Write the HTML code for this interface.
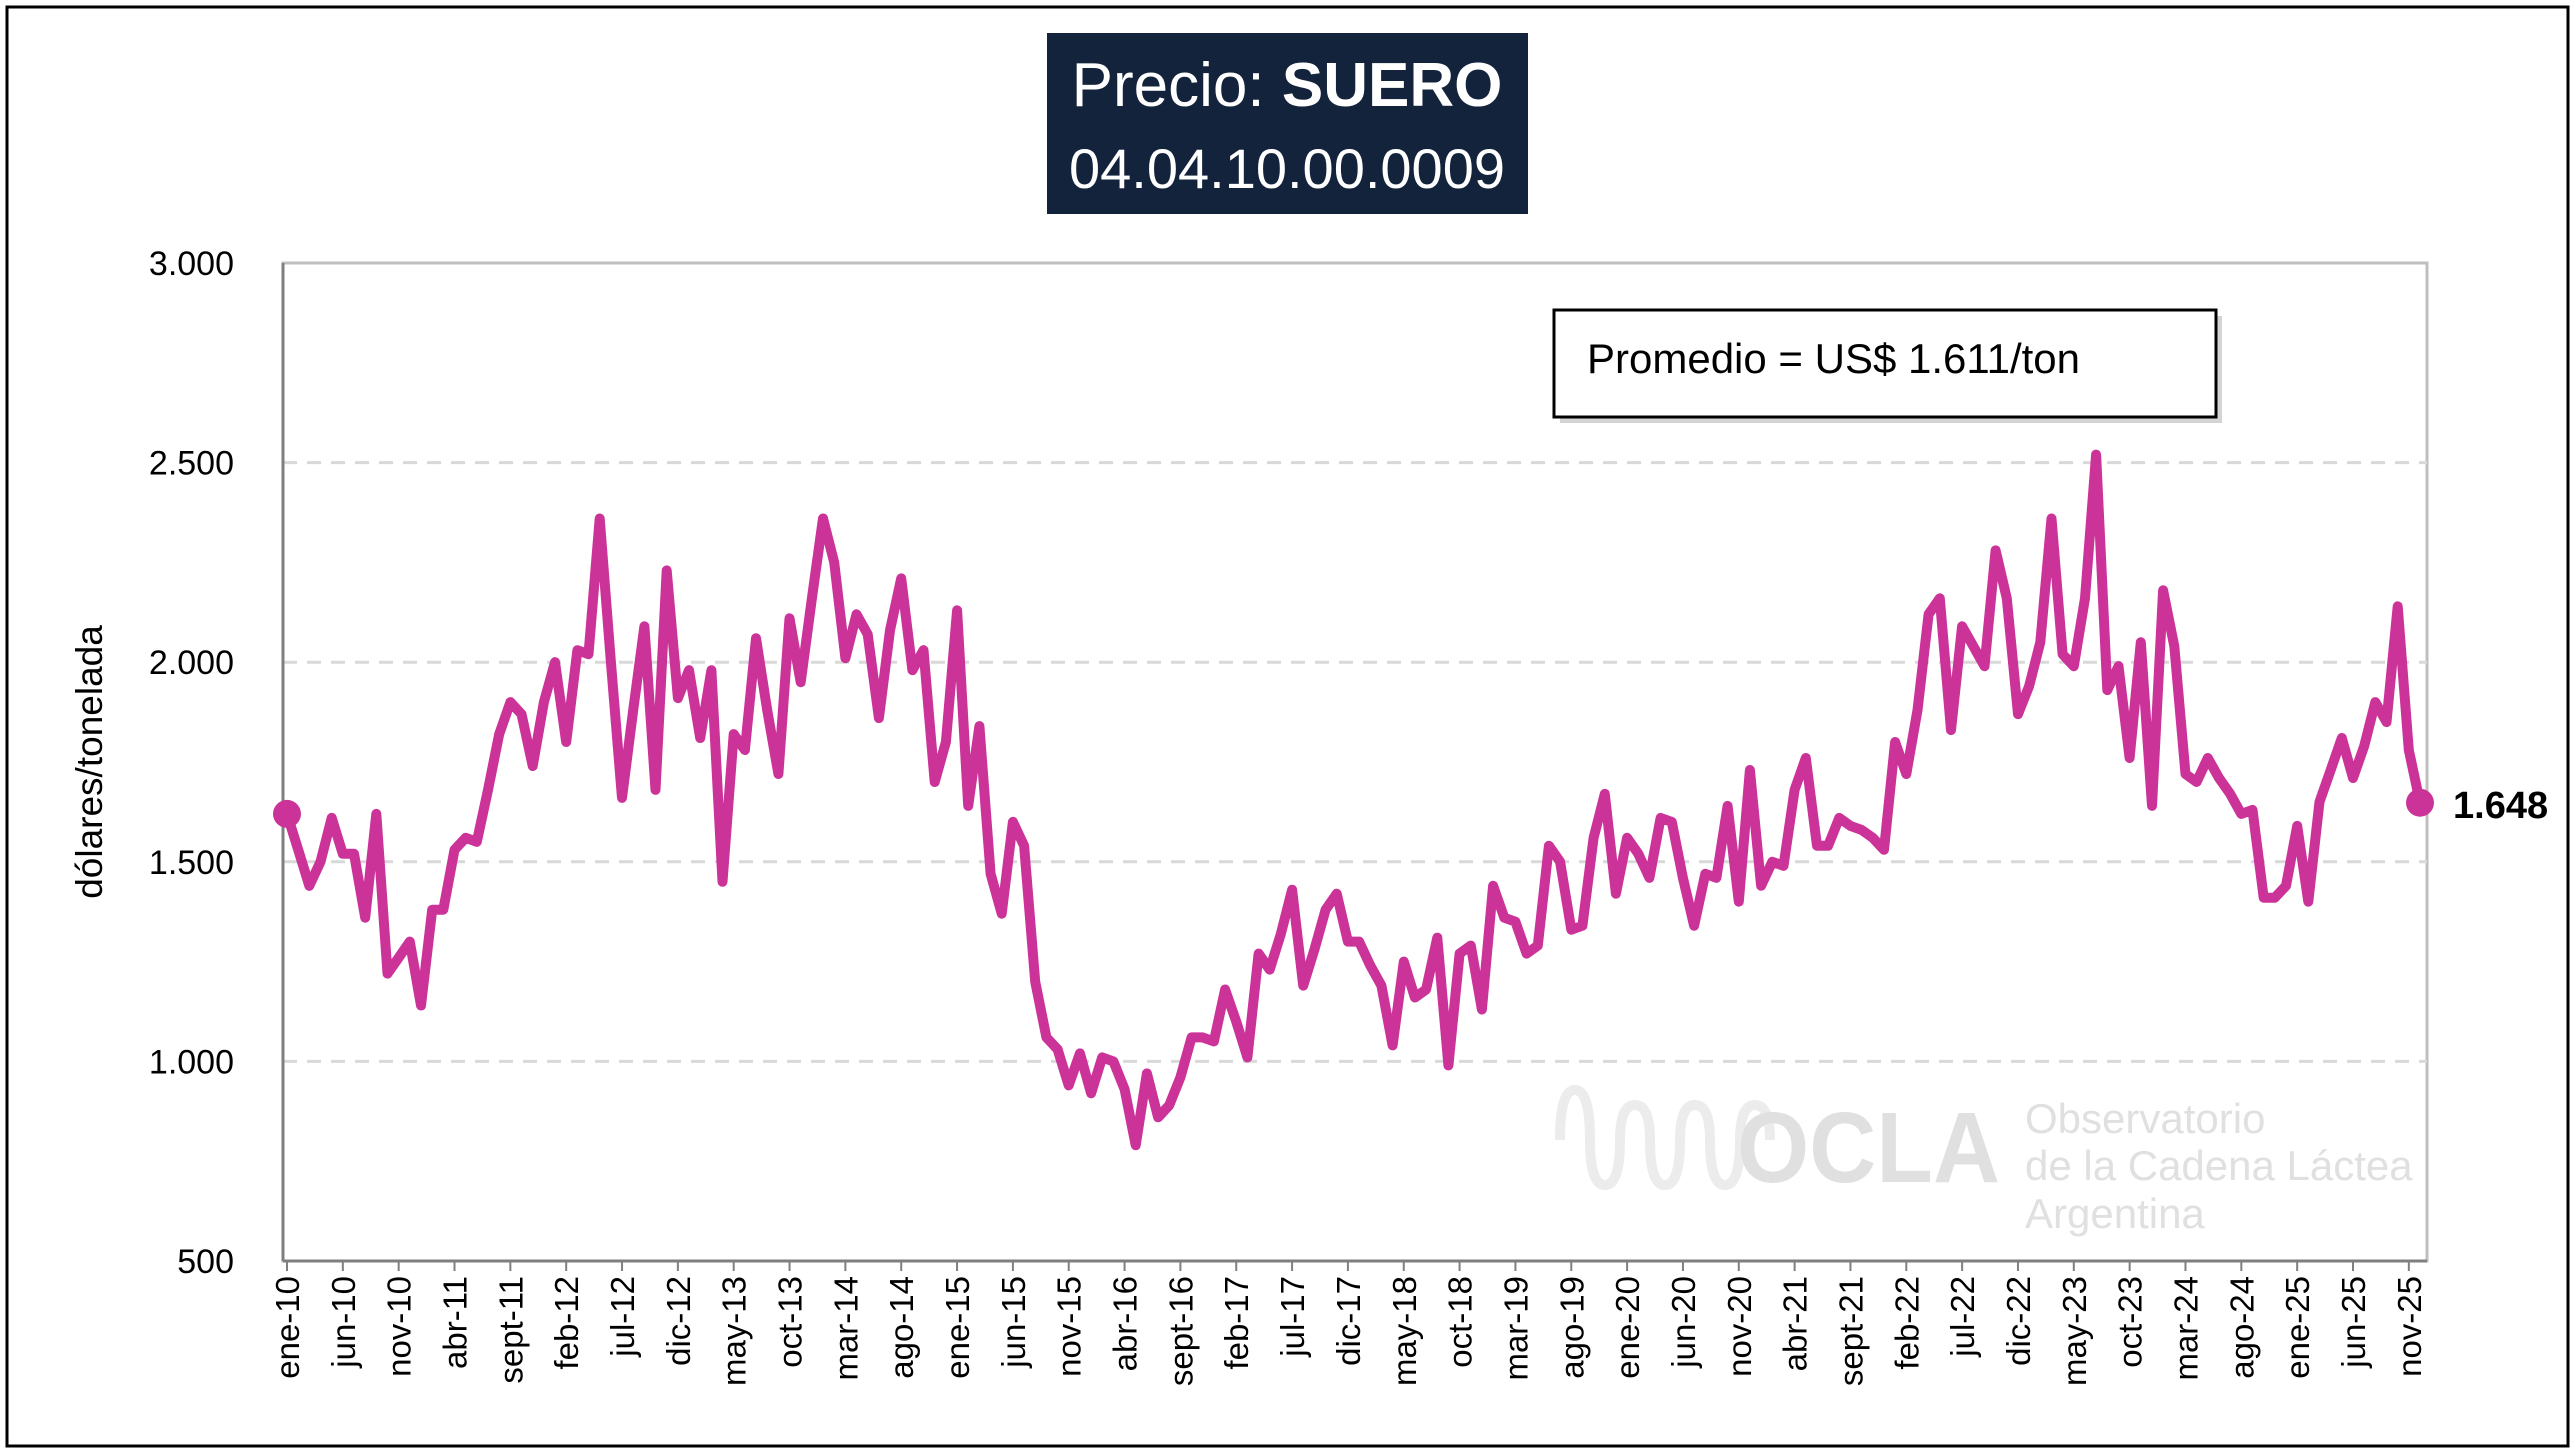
<!DOCTYPE html>
<html><head><meta charset="utf-8"><style>
html,body{margin:0;padding:0;background:#fff;}
svg{display:block;font-family:"Liberation Sans",sans-serif;}
</style></head><body>
<svg id="chart" width="2575" height="1452" viewBox="0 0 2575 1452" xmlns="http://www.w3.org/2000/svg">
<rect x="7" y="7" width="2561" height="1439" fill="#fff" stroke="#000" stroke-width="3"/>
<g>
<rect x="1047" y="33" width="481" height="181" fill="#13233b"/>
<text x="1287" y="106" text-anchor="middle" fill="#fff" font-size="62">Precio: <tspan font-weight="bold">SUERO</tspan></text>
<text x="1287" y="188" text-anchor="middle" fill="#fff" font-size="56">04.04.10.00.0009</text>
</g>
<g id="grid"></g>
<g fill="#e4e4e4">
<path d="M1560 1140 q0 -50 15 -50 q15 0 15 50 q0 45 15 45 q15 0 15 -45 q0 -35 15 -35 q15 0 15 35 q0 45 15 45 q15 0 15 -45 q0 -35 15 -35 q15 0 15 35 q0 45 15 45 q15 0 15 -45 q0 -35 15 -35 q15 0 15 35" fill="none" stroke="#ececec" stroke-width="10"/>
<text x="1737" y="1182" font-size="100" font-weight="bold" fill="#e0e0e0" textLength="263" lengthAdjust="spacingAndGlyphs">OCLA</text>
<text x="2025" y="1133" font-size="42" fill="#e0e0e0">Observatorio</text>
<text x="2025" y="1180" font-size="42" fill="#e0e0e0">de la Cadena Láctea</text>
<text x="2025" y="1228" font-size="42" fill="#e0e0e0">Argentina</text>
</g>
<g id="axes"></g>
<g id="series"></g>
<g>
<rect x="1560" y="316" width="662" height="107" fill="#aaa" opacity="0.5"/>
<rect x="1554" y="310" width="662" height="107" fill="#fff" stroke="#000" stroke-width="3"/>
<text x="1587" y="373" font-size="42" fill="#000">Promedio = US$ 1.611/ton</text>
</g>
<text x="2453" y="818" font-size="38" font-weight="bold" fill="#000">1.648</text>
<text transform="translate(102,762) rotate(-90)" text-anchor="middle" font-size="37" fill="#000">dólares/tonelada</text>
</svg>
<script>
const yTicks=[500,1000,1500,2000,2500,3000];
const yTickLabels=["500","1.000","1.500","2.000","2.500","3.000"];
const monthNames=["ene","feb","mar","abr","may","jun","jul","ago","sept","oct","nov","dic"];
const startYear=2010;
const prices=[
1620,1530,1440,1500,1610,1520,1520,1360,1620,1220,1260,1300,
1140,1380,1380,1530,1560,1550,1680,1820,1900,1870,1740,1900,
2000,1800,2030,2020,2360,2000,1660,1880,2090,1680,2230,1910,
1980,1810,1980,1450,1820,1780,2060,1880,1720,2110,1950,2160,
2360,2250,2010,2120,2070,1860,2080,2210,1980,2030,1700,1800,
2130,1640,1840,1470,1370,1600,1540,1200,1060,1030,940,1020,
920,1010,1000,930,790,970,860,890,960,1060,1060,1050,
1180,1100,1010,1270,1230,1320,1430,1190,1280,1380,1420,1300,
1300,1240,1190,1040,1250,1160,1180,1310,990,1270,1290,1130,
1440,1360,1350,1270,1290,1540,1500,1330,1340,1560,1670,1420,
1560,1520,1460,1610,1600,1460,1340,1470,1460,1640,1400,1730,
1440,1500,1490,1680,1760,1540,1540,1610,1590,1580,1560,1530,
1800,1720,1880,2120,2160,1830,2090,2040,1990,2280,2160,1870,
1940,2050,2360,2020,1990,2160,2520,1930,1990,1760,2050,1640,
2180,2040,1720,1700,1760,1710,1670,1620,1630,1410,1410,1440,
1590,1400,1650,1730,1810,1710,1790,1900,1850,2140,1780,1648];

const NS="http://www.w3.org/2000/svg";
const plotL=283,plotR=2427,plotT=263,plotB=1261,x0=287,x1=2420;
const yMin=500,yMax=3000;
function yScale(v){return plotB-(v-yMin)/(yMax-yMin)*(plotB-plotT);}
function xScale(i){return x0+i*(x1-x0)/(prices.length-1);}
function mk(tag,attrs,parent){const e=document.createElementNS(NS,tag);for(const k in attrs)e.setAttribute(k,attrs[k]);parent.appendChild(e);return e;}
const grid=document.getElementById('grid'),axes=document.getElementById('axes'),series=document.getElementById('series');
mk('rect',{x:plotL,y:plotT,width:plotR-plotL,height:plotB-plotT,fill:'none',stroke:'#bfbfbf','stroke-width':3},grid);
yTicks.forEach((v,i)=>{
  const y=yScale(v);
  if(i>0&&i<yTicks.length-1){
    const l=mk('line',{x1:plotL,x2:plotR,y1:y,y2:y,stroke:'#d9d9d9','stroke-width':3,'stroke-dasharray':'14 10'},grid);
    
    
  }
  const t=mk('text',{x:234,y:y+12,'text-anchor':'end','font-size':34,fill:'#000'},axes);
  t.textContent=yTickLabels[i];
  
  
});
mk('line',{x1:plotL,x2:plotL,y1:plotT,y2:plotB,stroke:'#7f7f7f','stroke-width':3},axes);
mk('line',{x1:plotL,x2:plotR,y1:plotB,y2:plotB,stroke:'#7f7f7f','stroke-width':3},axes);
for(let i=0;i<prices.length;i+=5){
  const x=xScale(i);
  mk('line',{x1:x,x2:x,y1:plotB,y2:plotB+10,stroke:'#7f7f7f','stroke-width':2},axes);
  const yr=String(startYear+Math.floor(i/12)).slice(2);
  const t=mk('text',{transform:`translate(${x+12},1276) rotate(-90)`,'text-anchor':'end','font-size':33,fill:'#000'},axes);
  t.textContent=monthNames[i%12]+'-'+yr;
  
  
}
const pts=prices.map((v,i)=>xScale(i).toFixed(1)+','+yScale(v).toFixed(1)).join(' ');
const line=mk('polyline',{points:pts,fill:'none',stroke:'#cc3399','stroke-width':10,'stroke-linejoin':'round','stroke-linecap':'round'},series);


[0,prices.length-1].forEach(i=>{
  const c=mk('circle',{cx:xScale(i),cy:yScale(prices[i]),r:14,fill:'#cc3399'},series);
  
  
});
</script>
</body></html>
